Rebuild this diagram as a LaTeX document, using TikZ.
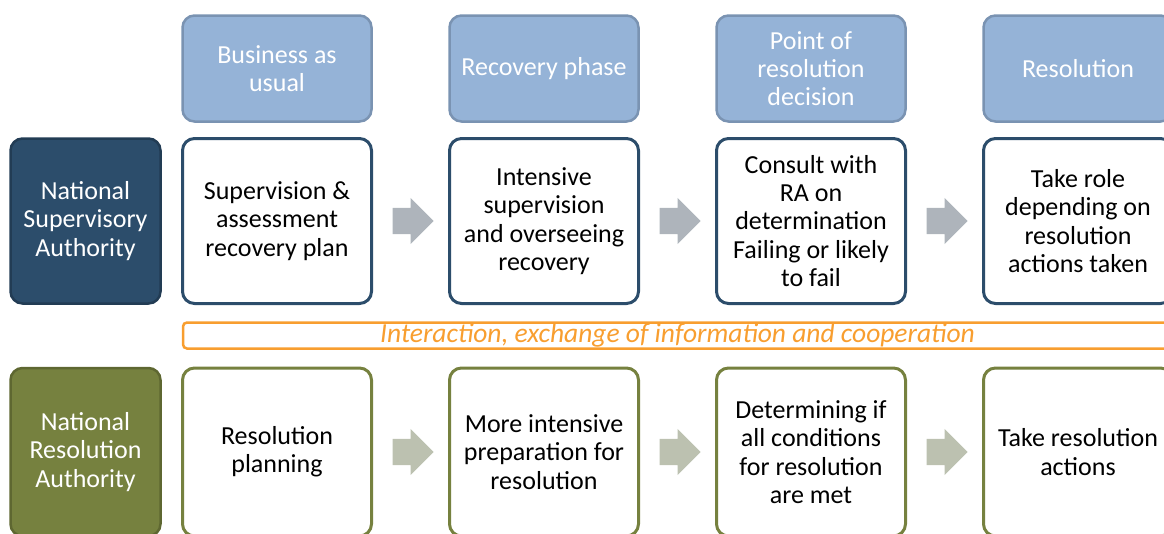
\documentclass[tikz,border=0pt]{standalone}
\usepackage{fontspec}
\setmainfont{Carlito}
\usetikzlibrary{shapes.arrows,calc}
\definecolor{hdrfill}{HTML}{95B3D7}
\definecolor{hdrline}{HTML}{7A93B2}
\definecolor{supblue}{HTML}{2C4D6B}
\definecolor{supline}{HTML}{223C54}
\definecolor{resgreen}{HTML}{76813F}
\definecolor{resline}{HTML}{5E6731}
\definecolor{bandorange}{HTML}{F89E2F}
\definecolor{arrgray}{HTML}{AEB4BB}
\definecolor{arrgreen}{HTML}{BCC1B0}
\tikzstyle{txt} = [align=center, font=\fontsize{26}{28.3}\selectfont]
\tikzstyle{phase} = [txt, draw=hdrline, fill=hdrfill, line width=2.5pt, rounded corners=12pt, minimum width=189pt, minimum height=106pt, text=white]
\tikzstyle{auth} = [txt, line width=2.5pt, rounded corners=12pt, minimum width=150pt, minimum height=165pt, text=white]
\tikzstyle{task} = [txt, fill=white, line width=3pt, rounded corners=12pt, minimum width=189pt, minimum height=165pt]
\tikzstyle{blk} = [single arrow, anchor=tail, inner xsep=0pt, inner ysep=13pt, minimum height=41pt, single arrow head extend=10pt]

\begin{document}
\begin{tikzpicture}[x=1pt,y=-1pt]
    \useasboundingbox (0,0) rectangle (1164,533);
    \clip (0,0) rectangle (1164,533);

    % phases
    \node[phase] (hbau) at (277,68.5) {Business as\\usual};
    \node[phase] (hrec) at (544,68.5) {Recovery phase};
    \node[phase] (hpnr) at (811,68.5) {Point of\\resolution\\decision};
    \node[phase] (hres) at (1078,68.5) {Resolution};

    % supervisory row
    \node[auth, draw=supline, fill=supblue] (nsa) at (85.5,221) {National\\Supervisory\\Authority};
    \node[task, draw=supblue] (s1) at (277,221) {Supervision \&\\assessment\\recovery plan};
    \node[task, draw=supblue] (s2) at (544,221) {Intensive\\supervision\\and overseeing\\recovery};
    \node[task, draw=supblue] (s3) at (811,221) {Consult with\\RA on\\determination\\Failing or likely\\to fail};
    \node[task, draw=supblue] (s4) at (1078,221) {Take role\\depending on\\resolution\\actions taken};

    % exchange band
    \draw[bandorange, line width=2.5pt, rounded corners=4pt] (183,322.5) rectangle (1172,348.5);
    \node[txt, text=bandorange, font=\fontsize{27.5}{28}\selectfont\itshape] (band) at (677.5,335.5) {Interaction, exchange of information and cooperation};

    % resolution row
    \node[auth, draw=resline, fill=resgreen, minimum height=168pt] (nra) at (85.5,452) {National\\Resolution\\Authority};
    \node[task, draw=resgreen, minimum height=168pt] (r1) at (277,452) {Resolution\\planning};
    \node[task, draw=resgreen, minimum height=168pt] (r2) at (544,452) {More intensive\\preparation for\\resolution};
    \node[task, draw=resgreen, minimum height=168pt] (r3) at (811,452) {Determining if\\all conditions\\for resolution\\are met};
    \node[task, draw=resgreen, minimum height=168pt] (r4) at (1078,452) {Take resolution\\actions};

    % block arrows between steps
    \foreach \a in {s1,s2,s3}
        \node[blk, fill=arrgray] (a\a) at ($(\a.east)+(19.5,0)$) {};
    \foreach \a in {r1,r2,r3}
        \node[blk, fill=arrgreen] (a\a) at ($(\a.east)+(19.5,0)$) {};

\end{tikzpicture}
\end{document}
